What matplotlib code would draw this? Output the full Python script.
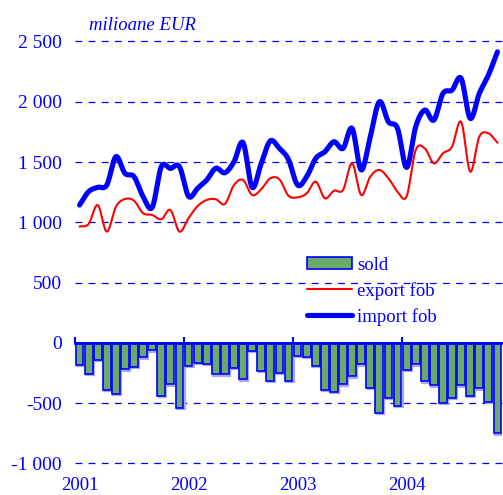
import numpy as np
import matplotlib
matplotlib.use("Agg")
import matplotlib.pyplot as plt
from matplotlib.transforms import ScaledTranslation, blended_transform_factory
from matplotlib.legend_handler import HandlerTuple

# monthly trade balance, Jan 2001 - Nov 2004 (milioane EUR)
years = ["2001", "2002", "2003", "2004"]

import_fob = [1143, 1254, 1290, 1309, 1544, 1406, 1378, 1212, 1124, 1461, 1447, 1461,
              1215, 1282, 1351, 1448, 1411, 1502, 1660, 1290, 1489, 1675, 1613, 1520,
              1309, 1378, 1530, 1585, 1668, 1613, 1779, 1434, 1710, 2000, 1834, 1779,
              1455, 1793, 1931, 1848, 2069, 2097, 2194, 1862, 2069, 2221, 2414]

export_fob = [964, 986, 1143, 922, 1129, 1193, 1179, 1075, 1061, 1025, 1102, 922,
              1035, 1135, 1185, 1191, 1152, 1309, 1351, 1226, 1274, 1365, 1356, 1220,
              1207, 1240, 1337, 1199, 1262, 1268, 1489, 1226, 1378, 1434, 1365, 1254,
              1215, 1599, 1613, 1489, 1572, 1627, 1834, 1420, 1710, 1738, 1660]

sold = [-183, -260, -144, -392, -425, -221, -199, -122, -64, -439, -345, -538,
        -194, -169, -175, -262, -262, -210, -304, -70, -232, -318, -249, -318,
        -106, -120, -194, -392, -408, -345, -279, -180, -373, -582, -458, -527,
        -227, -180, -320, -353, -502, -458, -353, -441, -378, -491, -752]

yticks = [-1000, -500, 0, 500, 1000, 1500, 2000, 2500]
ytick_labels = ["-1 000", "-500", "0", "500", "1 000", "1 500", "2 000", "2 500"]

BLUE = "#0000ff"
SERIF = "Liberation Serif"


def catmull_rom(x, y, steps=16):
    """Smoothed path through the points, like a spreadsheet 'smoothed line'."""
    x = np.asarray(x, float)
    y = np.asarray(y, float)
    px = np.concatenate([[2 * x[0] - x[1]], x, [2 * x[-1] - x[-2]]])
    py = np.concatenate([[2 * y[0] - y[1]], y, [2 * y[-1] - y[-2]]])
    t = np.linspace(0, 1, steps, endpoint=False)
    xs, ys = [], []
    for i in range(1, len(px) - 2):
        for p, out in ((px, xs), (py, ys)):
            p0, p1, p2, p3 = p[i - 1], p[i], p[i + 1], p[i + 2]
            out.append(0.5 * (2 * p1 + (-p0 + p2) * t
                              + (2 * p0 - 5 * p1 + 4 * p2 - p3) * t ** 2
                              + (-p0 + 3 * p1 - 3 * p2 + p3) * t ** 3))
    xs.append([x[-1]])
    ys.append([y[-1]])
    return np.concatenate(xs), np.concatenate(ys)


plt.rcParams["hatch.linewidth"] = 0.6

fig = plt.figure(figsize=(5.03, 4.95), dpi=100)
ax = fig.add_axes([75 / 503, 31.7 / 495, 427 / 503, 421.8 / 495])

n = len(sold)
xpos = np.arange(n) + 0.5

# soft blue shadow under the bars
shadow = ax.bar(xpos, sold, width=0.86, facecolor="none", edgecolor="#a8a8ff",
                linewidth=1.6, zorder=2)
shift = ax.transData + ScaledTranslation(1.2 / 100, -1.2 / 100, fig.dpi_scale_trans)
for p in shadow:
    p.set_transform(shift)

bars_fill = ax.bar(xpos, sold, width=0.86, facecolor="#e4f4e0", edgecolor="#6aab6a",
                   linewidth=0, hatch="-" * 24, zorder=3)
bars_edge = ax.bar(xpos, sold, width=0.86, facecolor="none", edgecolor=BLUE,
                   linewidth=1.2, zorder=4)

ex_x, ex_y = catmull_rom(xpos, export_fob)
im_x, im_y = catmull_rom(xpos, import_fob)
l_exp, = ax.plot(ex_x, ex_y, color="#ff0000", lw=1.5, solid_joinstyle="round",
                 solid_capstyle="round", zorder=5)
l_imp, = ax.plot(im_x, im_y, color=BLUE, lw=3.7, solid_joinstyle="round",
                 solid_capstyle="round", zorder=6)

ax.set_xlim(0, n)
ax.set_ylim(-1000, 2500)

# y axis: labels only, dashed grid
ax.set_yticks(yticks)
ax.set_yticklabels(ytick_labels, fontsize=14, color=BLUE, family=SERIF)
ax.tick_params(axis="y", length=0, pad=9.5)
ax.yaxis.grid(True, color=BLUE, lw=0.9, linestyle=(0, (5.5, 5)))
for gl in ax.get_ygridlines():
    gl.set_clip_on(False)
ax.set_axisbelow(True)

for side in ("left", "right", "top"):
    ax.spines[side].set_visible(False)
ax.spines["bottom"].set_position(("data", 0))
ax.spines["bottom"].set_color(BLUE)
ax.spines["bottom"].set_linewidth(2.0)
ax.spines["bottom"].set_zorder(7)
ax.set_xticks([0, 12, 24, 36])
ax.set_xticklabels([])
ax.tick_params(axis="x", direction="in", length=4.5, width=1.5, color=BLUE)

# year labels at the foot of the chart
trans = blended_transform_factory(ax.transData, fig.transFigure)
for k, yr in enumerate(years):
    ax.text(k * 12 + 0.5, 4.5 / 495, yr, transform=trans, ha="center", va="baseline",
            fontsize=13.5, color=BLUE, family=SERIF)

fig.text(89 / 503, 1 - 30 / 495, "milioane EUR", ha="left", va="baseline",
         fontsize=13.5, style="italic", color=BLUE, family=SERIF)

ax.legend([(bars_fill, bars_edge), l_exp, l_imp], ["sold", "export fob", "import fob"],
          handler_map={tuple: HandlerTuple(ndivide=1, pad=0)},
          loc="upper left", bbox_to_anchor=(307 / 503, 1 - 256.5 / 495),
          bbox_transform=fig.transFigure, frameon=False, borderpad=0, borderaxespad=0,
          handlelength=2.4, handleheight=0.65, handletextpad=0.28, labelspacing=0.44,
          prop={"family": SERIF, "size": 13.5}, labelcolor=BLUE)

fig.savefig("out.png", dpi=100)
